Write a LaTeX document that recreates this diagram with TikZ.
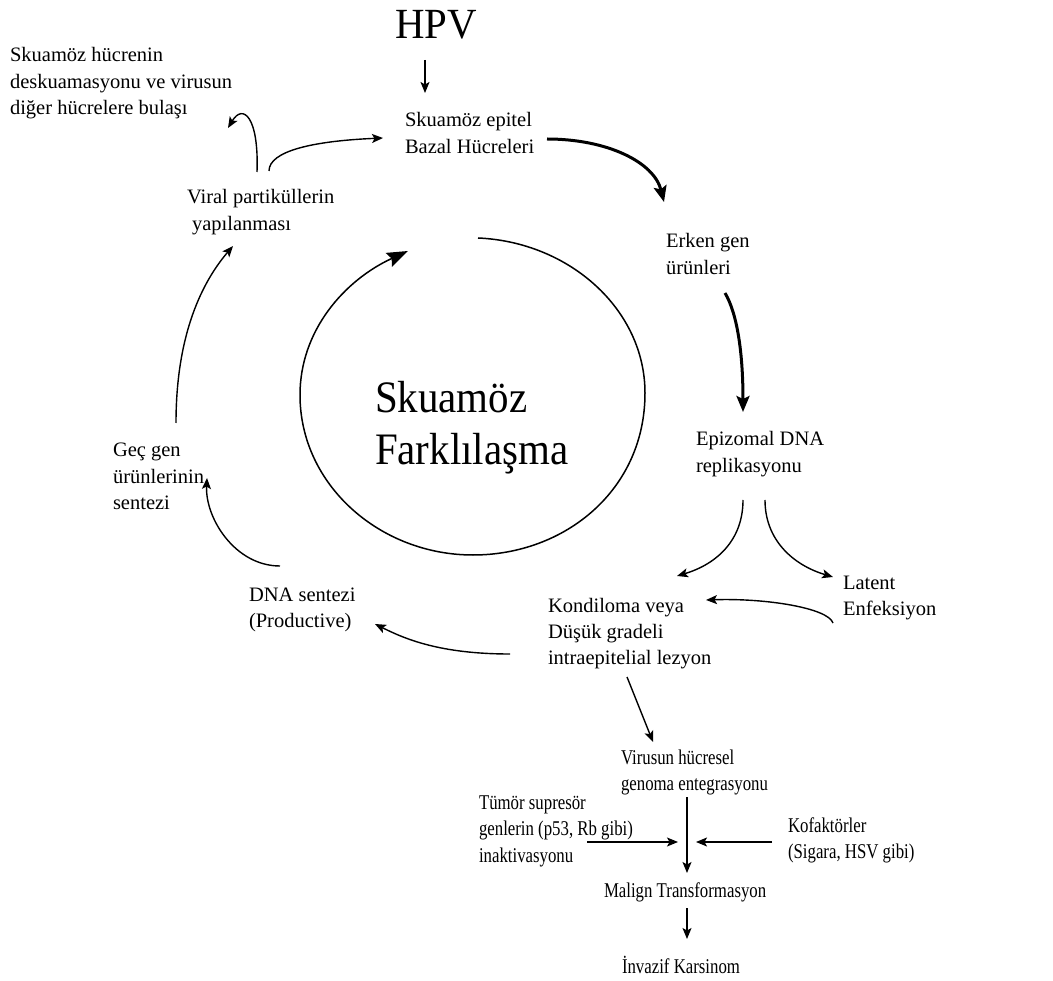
\documentclass[tikz,border=0pt]{standalone}
\usepackage{fontspec}
\setmainfont{Liberation Serif}
\newfontfamily\narrowserif[FakeStretch=0.8]{Liberation Serif}
\newfontfamily\bigserif[FakeStretch=0.91]{Liberation Serif}
\newfontfamily\hpvserif[FakeStretch=0.95]{Liberation Serif}
\usetikzlibrary{arrows.meta}
% left-aligned stack of lines; the box baseline is the first line's baseline
\newcommand\tlines[1]{\vtop{\let\\\cr\halign{##\hfil\cr#1\crcr}}}
\begin{document}
\begin{tikzpicture}[x=1pt,y=-1pt,
  lbl/.style={inner sep=0pt, outer sep=0pt, anchor=base west,
    font=\fontsize{20.5}{26.5}\selectfont},
  lblnarrow/.style={lbl, font=\narrowserif\fontsize{21}{26.5}\selectfont},
  lblbig/.style={lbl, font=\bigserif\fontsize{45}{52}\selectfont},
  lblhpv/.style={lbl, font=\hpvserif\fontsize{43}{50}\selectfont},
  arr/.style={line width=1.4pt, -{Stealth[length=11pt,width=9pt,inset=2.5pt]}},
  boldarr/.style={line width=3pt, -{Stealth[length=16pt,width=13pt,inset=3pt]}},
  cyclearr/.style={line width=1.5pt, -{Stealth[length=21pt,width=15pt,inset=3pt]}}]
\useasboundingbox (0,0) rectangle (1053,981);

% labels
\node[lblhpv] (hpv) at (395,39) {HPV};
\node[lbl] (desq) at (10,62) {\tlines{Skuamöz hücrenin\\deskuamasyonu ve virusun\\diğer hücrelere bulaşı}};
\node[lbl] (epitel) at (405,127) {\tlines{Skuamöz epitel\\Bazal Hücreleri}};
\node[lbl] (viral) at (187,204) {\tlines{Viral partiküllerin\\\hskip5pt yapılanması}};
\node[lbl] (erken) at (666,248) {\tlines{Erken gen\\ürünleri}};
\node[lbl] (epiz) at (696,446) {\tlines{Epizomal DNA\\replikasyonu}};
\node[lbl] (latent) at (843,589) {\tlines{Latent\\Enfeksiyon}};
\node[lbl] (kond) at (548,612) {\tlines{Kondiloma veya\\Düşük gradeli\\intraepitelial lezyon}};
\node[lbl] (dnas) at (249,601) {\tlines{DNA sentezi\\(Productive)}};
\node[lbl] (gec) at (113,457) {\tlines{Geç gen\\ürünlerinin\\sentezi}};
\node[lblbig] (farkl) at (375,413) {\tlines{Skuamöz\\Farklılaşma}};
\node[lblnarrow] (virus) at (621,764) {\tlines{Virusun hücresel\\genoma entegrasyonu}};
\node[lblnarrow] (tumor) at (479,809) {\tlines{Tümör supresör\\genlerin (p53, Rb gibi)\\inaktivasyonu}};
\node[lblnarrow] (kofak) at (788,832) {\tlines{Kofaktörler\\(Sigara, HSV gibi)}};
\node[lblnarrow] (malign) at (604,897) {Malign Transformasyon};
\node[lblnarrow] (invaz) at (622,973) {İnvazif Karsinom};
\coordinate (merge) at (687,842);

% squamous differentiation cycle
\draw[cyclearr] (478,238) .. controls (570,242) and (645,310) .. (645,393)
  .. controls (645,490) and (565,555) .. (473,555)
  .. controls (380,555) and (300,485) .. (300,395)
  .. controls (300,330) and (345,280) .. (408,251);

% infection cycle
\draw[arr] ([shift={(30,21)}]hpv.base west) -- ([shift={(20,-34)}]epitel.base west);
\draw[boldarr] ([shift={(142,12)}]epitel.base west)
  .. controls +(60,0) and +(-10,-40) .. ([shift={(-2,-46)}]erken.base west);
\draw[boldarr] ([shift={(59,45)}]erken.base west)
  .. controls +(12,20) and +(0,-60) .. ([shift={(47,-34)}]epiz.base west);
\draw[arr] ([shift={(47,54)}]epiz.base west)
  .. controls +(0,40) and +(40,-12) .. ([shift={(129,-36)}]kond.base west);
\draw[arr] ([shift={(69,54)}]epiz.base west)
  .. controls +(0,40) and +(-40,-12) .. ([shift={(-10,-12)}]latent.base west);
\draw[arr] ([shift={(-10,34)}]latent.base west)
  .. controls +(-5,-15) and +(60,-2) .. ([shift={(158,-12)}]kond.base west);
\draw[arr] ([shift={(-38,42)}]kond.base west)
  .. controls +(-70,0) and +(30,15) .. ([shift={(126,23)}]dnas.base west);
\draw[arr] ([shift={(31,-35)}]dnas.base west)
  .. controls +(-45,0) and +(-2,40) .. ([shift={(94,21)}]gec.base west);
\draw[arr] ([shift={(63,-34)}]gec.base west)
  .. controls +(0,-90) and +(-30,35) .. ([shift={(46,42)}]viral.base west);
\draw[arr] ([shift={(70,-32)}]viral.base west)
  .. controls +(2,-55) and +(15,-25) .. ([shift={(218,66)}]desq.base west);
\draw[arr] ([shift={(82,-33)}]viral.base west)
  .. controls +(0,-20) and +(-70,3) .. ([shift={(-22,11)}]epitel.base west);

% progression to carcinoma
\draw[arr] ([shift={(79,65)}]kond.base west) -- ([shift={(32,-22)}]virus.base west);
\draw[arr] ([shift={(66,33)}]virus.base west) -- ([shift={(83,-24)}]malign.base west);
\draw[arr] ([shift={(108,33)}]tumor.base west) -- ([xshift=-9pt]merge);
\draw[arr] ([shift={(-16,10)}]kofak.base west) -- ([xshift=9pt]merge);
\draw[arr] ([shift={(83,11)}]malign.base west) -- ([shift={(65,-34)}]invaz.base west);
\end{tikzpicture}
\end{document}
